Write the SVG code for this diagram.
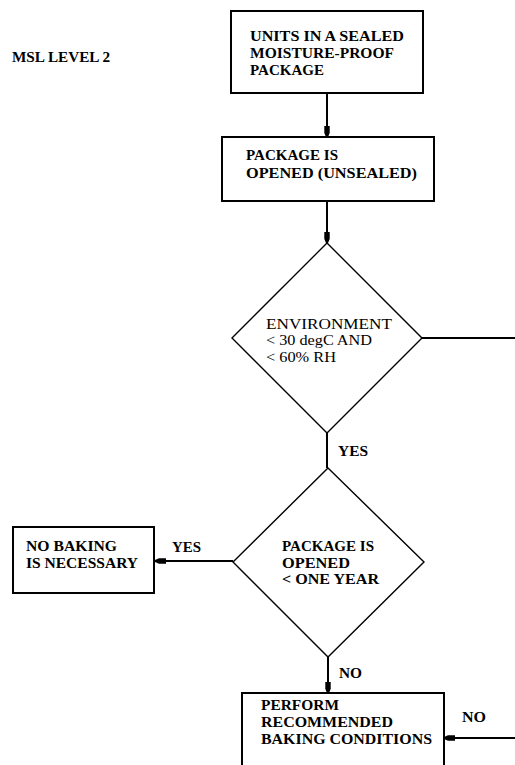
<svg xmlns="http://www.w3.org/2000/svg" width="515" height="765" viewBox="0 0 515 765">
<style>
.box{fill:#fff;stroke:#000;stroke-width:2}
.dia{fill:#fff;stroke:#000;stroke-width:1.4}
.t{font-family:'Liberation Serif','Times New Roman',serif;font-weight:bold;font-size:15px;fill:#000}
.n{font-weight:normal}
.c{fill:none;stroke:#000;stroke-width:2}
</style>
<defs>
<marker id="ah" markerWidth="14" markerHeight="8" refX="13" refY="4" orient="auto" markerUnits="userSpaceOnUse">
<path d="M2,1.3 L9,1.3 L13,3 L13,5 L9,6.7 L2,6.7 Z" fill="#000"/>
</marker>
</defs>
<rect width="515" height="765" fill="#fff"/>
<g font-family="Liberation Serif" font-weight="bold" font-size="15">
<text class="t" x="12" y="62" textLength="98" lengthAdjust="spacingAndGlyphs">MSL LEVEL 2</text>
<g id="connectors">
<line class="c" x1="327" y1="93" x2="327" y2="137" marker-end="url(#ah)"/>
<line class="c" x1="327" y1="201" x2="327" y2="243" marker-end="url(#ah)"/>
<line class="c" x1="327" y1="433" x2="327" y2="468"/>
<line class="c" x1="422" y1="338" x2="516" y2="338"/>
<line class="c" x1="233" y1="561" x2="155" y2="561" marker-end="url(#ah)"/>
<line class="c" x1="328" y1="657" x2="328" y2="693" marker-end="url(#ah)"/>
<line class="c" x1="516" y1="738" x2="444" y2="738" marker-end="url(#ah)"/>
<text class="t" x="338" y="456" textLength="30" lengthAdjust="spacingAndGlyphs">YES</text>
<text class="t" x="172" y="552" textLength="29" lengthAdjust="spacingAndGlyphs">YES</text>
<text class="t" x="339" y="678" textLength="23" lengthAdjust="spacingAndGlyphs">NO</text>
<text class="t" x="462" y="722" textLength="24" lengthAdjust="spacingAndGlyphs">NO</text>
</g>
<g id="sealed">
<rect class="box" x="231" y="11" width="192" height="82"/>
<text class="t" x="250" y="41" textLength="154" lengthAdjust="spacingAndGlyphs">UNITS IN A SEALED</text>
<text class="t" x="250" y="58" textLength="144" lengthAdjust="spacingAndGlyphs">MOISTURE-PROOF</text>
<text class="t" x="250" y="75" textLength="74" lengthAdjust="spacingAndGlyphs">PACKAGE</text>
</g>
<g id="opened">
<rect class="box" x="222" y="137" width="212" height="64"/>
<text class="t" x="246" y="160" textLength="92" lengthAdjust="spacingAndGlyphs">PACKAGE IS</text>
<text class="t" x="246" y="177.5" textLength="171" lengthAdjust="spacingAndGlyphs">OPENED (UNSEALED)</text>
</g>
<g id="environment">
<polygon class="dia" points="327,243 422,338 327,433 232,338"/>
<text class="t n" x="266" y="329" textLength="126" lengthAdjust="spacingAndGlyphs">ENVIRONMENT</text>
<text class="t n" x="266" y="345" textLength="106" lengthAdjust="spacingAndGlyphs">&lt; 30 degC AND</text>
<text class="t n" x="266" y="361.5" textLength="70" lengthAdjust="spacingAndGlyphs">&lt; 60% RH</text>
</g>
<g id="oneyear">
<polygon class="dia" points="328,468 424,562 328,657 233,562"/>
<text class="t" x="282" y="551" textLength="92" lengthAdjust="spacingAndGlyphs">PACKAGE IS</text>
<text class="t" x="282" y="567.5" textLength="68" lengthAdjust="spacingAndGlyphs">OPENED</text>
<text class="t" x="282" y="584" textLength="97" lengthAdjust="spacingAndGlyphs">&lt; ONE YEAR</text>
</g>
<g id="nobaking">
<rect class="box" x="13" y="527" width="141" height="66"/>
<text class="t" x="26" y="551" textLength="91" lengthAdjust="spacingAndGlyphs">NO BAKING</text>
<text class="t" x="26" y="567.5" textLength="112" lengthAdjust="spacingAndGlyphs">IS NECESSARY</text>
</g>
<g id="baking">
<rect class="box" x="242" y="693" width="202" height="90"/>
<text class="t" x="261" y="710" textLength="78" lengthAdjust="spacingAndGlyphs">PERFORM</text>
<text class="t" x="261" y="727" textLength="132" lengthAdjust="spacingAndGlyphs">RECOMMENDED</text>
<text class="t" x="261" y="744" textLength="171" lengthAdjust="spacingAndGlyphs">BAKING CONDITIONS</text>
</g>
</g>
</svg>
